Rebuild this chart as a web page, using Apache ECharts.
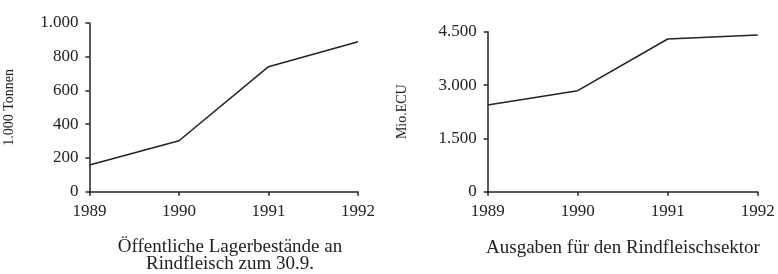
<!DOCTYPE html>
<html>
<head>
<meta charset="utf-8">
<script src="https://cdn.jsdelivr.net/npm/echarts@6/dist/echarts.min.js"></script>
<style>
  html, body { margin: 0; padding: 0; background: #fff; }
  #main { width: 778px; height: 274px; }
</style>
</head>
<body>
<div id="main"></div>
<script type="text/javascript">
var years = ['1989', '1990', '1991', '1992'];
// 1.000 Tonnen
var lagerbestand = [158, 302, 741, 889];
// Mio.ECU
var ausgaben = [2438, 2841, 4295, 4407];

var font = '"Liberation Serif", "DejaVu Serif", serif';
var ink = '#222';

function dotThousands(v) {
    return String(v).replace(/\B(?=(\d{3})+(?!\d))/g, '.');
}

function xAxisFor(idx) {
    return {
        type: 'category', gridIndex: idx, data: years, boundaryGap: false,
        axisLine: { lineStyle: { color: ink, width: 1.5 } },
        axisTick: { show: true, length: 4, lineStyle: { color: ink, width: 1.5 } },
        axisLabel: { color: ink, fontFamily: font, fontSize: 17, margin: 11 }
    };
}

function yAxisFor(idx, name, max, step) {
    return {
        type: 'value', gridIndex: idx, min: 0, max: max, interval: step,
        name: name, nameLocation: 'middle', nameRotate: 90, nameGap: idx === 0 ? 73 : 78,
        nameTextStyle: { color: ink, fontFamily: font, fontSize: 14 },
        splitLine: { show: false },
        axisLine: { show: true, lineStyle: { color: ink, width: 1.5 } },
        axisTick: { show: true, length: 4, lineStyle: { color: ink, width: 1.5 } },
        axisLabel: { color: ink, fontFamily: font, fontSize: 17, margin: 11, formatter: dotThousands }
    };
}

var myChart = echarts.init(document.getElementById('main'));
var option = {
    animation: false,
    title: [
        {
            text: 'Öffentliche Lagerbestände an\nRindfleisch zum 30.9.',
            left: 225, top: 234, textAlign: 'center',
            textStyle: { color: ink, fontFamily: font, fontSize: 19, fontWeight: 'normal', lineHeight: 17 }
        },
        {
            text: 'Ausgaben für den Rindfleischsektor',
            left: 618, top: 234, textAlign: 'center',
            textStyle: { color: ink, fontFamily: font, fontSize: 19, fontWeight: 'normal', lineHeight: 18 }
        }
    ],
    grid: [
        { left: 89.5, top: 23, width: 268.5, height: 168.7 },
        { left: 487.7, top: 31.7, width: 270, height: 160 }
    ],
    xAxis: [xAxisFor(0), xAxisFor(1)],
    yAxis: [yAxisFor(0, '1.000 Tonnen', 1000, 200), yAxisFor(1, 'Mio.ECU', 4500, 1500)],
    series: [
        {
            type: 'line', xAxisIndex: 0, yAxisIndex: 0, data: lagerbestand,
            symbol: 'none', lineStyle: { color: ink, width: 1.5 }
        },
        {
            type: 'line', xAxisIndex: 1, yAxisIndex: 1, data: ausgaben,
            symbol: 'none', lineStyle: { color: ink, width: 1.5 }
        }
    ]
};
myChart.setOption(option);
</script>
</body>
</html>
